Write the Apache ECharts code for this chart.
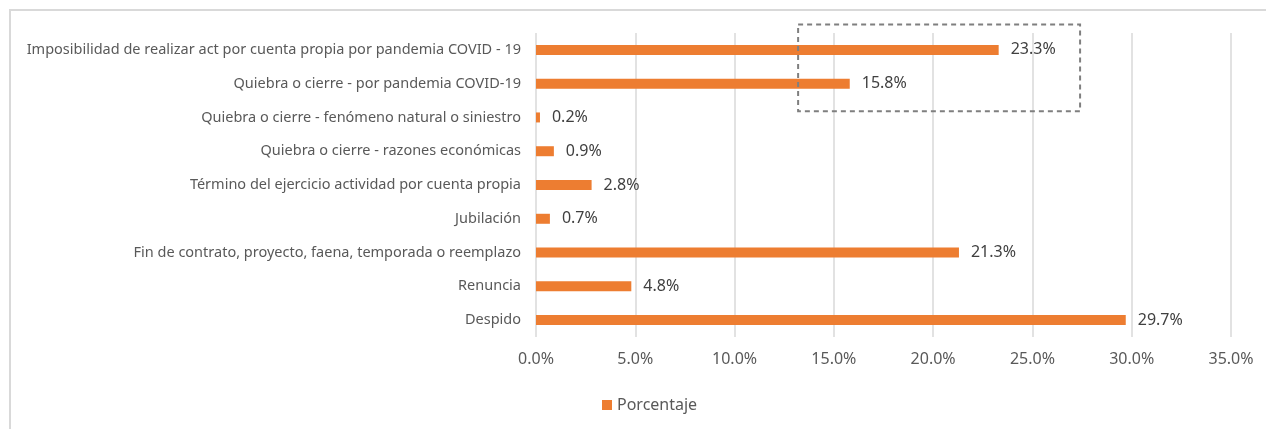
<!DOCTYPE html>
<html>
<head>
<meta charset="utf-8">
<script src="https://cdn.jsdelivr.net/npm/echarts@6/dist/echarts.min.js"></script>
<style>
html,body{margin:0;padding:0;background:#fff;}
#chart{width:1266px;height:429px;}
</style>
</head>
<body>
<div id="chart"></div>
<script>
// Categories, listed top to bottom
var categories = [
  "Imposibilidad de realizar act por cuenta propia por pandemia COVID - 19",
  "Quiebra o cierre - por pandemia COVID-19",
  "Quiebra o cierre - fenómeno natural o siniestro",
  "Quiebra o cierre - razones económicas",
  "Término del ejercicio actividad por cuenta propia",
  "Jubilación",
  "Fin de contrato, proyecto, faena, temporada o reemplazo",
  "Renuncia",
  "Despido"
];
var porcentaje = [23.3, 15.8, 0.2, 0.9, 2.8, 0.7, 21.3, 4.8, 29.7];
var seriesName = "Porcentaje";
var axisMin = 0, axisMax = 35, axisStep = 5;
// Highlight box range (in data units / category indices)
var boxXFrom = 13.2, boxXTo = 27.4;
var boxCatFrom = 0, boxCatTo = 1;

var chart = echarts.init(document.getElementById('chart'), null, {renderer: 'canvas'});
var font = "'Noto Sans', sans-serif";

function borderGraphic() {
  return {
    id: 'border', type: 'rect', silent: true, z: -1,
    shape: {x: 10, y: 10, width: 1400, height: 600},
    style: {fill: 'none', stroke: '#d9d9d9', lineWidth: 2}
  };
}

var option = {
  animation: false,
  backgroundColor: '#ffffff',
  textStyle: {fontFamily: font},
  grid: {left: 536, right: 35, top: 33, bottom: 92, containLabel: false},
  legend: {
    data: [seriesName],
    left: 597, top: 392,
    itemWidth: 10, itemHeight: 10, itemGap: 5,
    icon: 'rect',
    textStyle: {color: '#595959', fontSize: 16, fontFamily: font}
  },
  xAxis: {
    type: 'value', min: axisMin, max: axisMax, interval: axisStep,
    axisLine: {show: false}, axisTick: {show: false},
    splitLine: {show: true, lineStyle: {color: '#d9d9d9', width: 1.5}},
    axisLabel: {color: '#595959', fontSize: 16, fontFamily: font, margin: 14,
      formatter: function (v) { return v.toFixed(1) + '%'; }}
  },
  yAxis: {
    type: 'category', data: categories, inverse: true,
    axisLine: {show: false}, axisTick: {show: false},
    axisLabel: {color: '#595959', fontSize: 14.5, fontFamily: font, margin: 15}
  },
  series: [{
    name: seriesName, type: 'bar', data: porcentaje, barWidth: 10,
    itemStyle: {color: '#ED7D31'},
    label: {show: true, position: 'right', distance: 12, color: '#404040',
      fontSize: 16, fontFamily: font,
      formatter: function (p) { return p.value.toFixed(1) + '%'; }}
  }],
  graphic: [borderGraphic()]
};
chart.setOption(option);

// Dashed highlight box placed through the chart's own scales
var x1 = chart.convertToPixel({xAxisIndex: 0}, boxXFrom);
var x2 = chart.convertToPixel({xAxisIndex: 0}, boxXTo);
var yA = chart.convertToPixel({yAxisIndex: 0}, boxCatFrom);
var yB = chart.convertToPixel({yAxisIndex: 0}, boxCatTo);
var band = Math.abs(yB - yA);
var boxTop = yA - band * 0.75;
var boxBottom = yB + band * 0.82;
chart.setOption({graphic: [borderGraphic(), {
  id: 'box', type: 'rect', silent: true, z: 10,
  shape: {x: x1, y: boxTop, width: x2 - x1, height: boxBottom - boxTop},
  style: {fill: 'none', stroke: '#7f7f7f', lineWidth: 2, lineDash: [5, 4]}
}]});
</script>
</body>
</html>
